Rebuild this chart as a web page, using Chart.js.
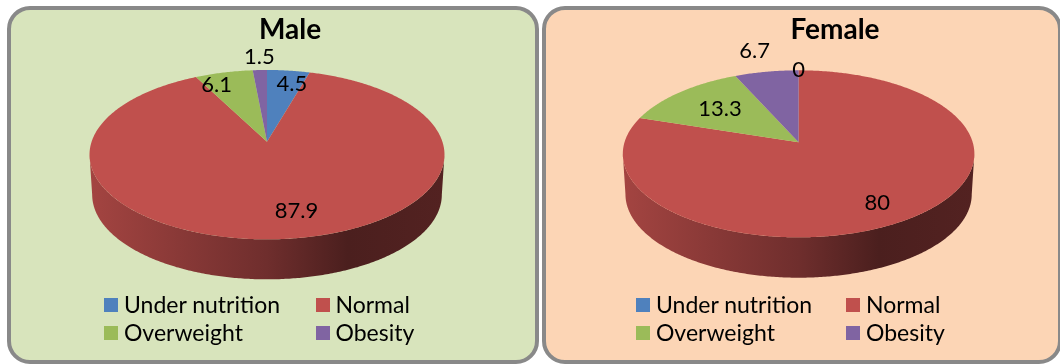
<!DOCTYPE html>
<html>
<head>
<meta charset="utf-8">
<title>Nutritional status by sex</title>
<script src="https://cdn.jsdelivr.net/npm/chart.js@4/dist/chart.umd.min.js"></script>
<style>
    html, body { margin: 0; padding: 0; background: #fff; }
    body { position: relative; width: 1060px; height: 364px; overflow: hidden; font-family: Lato, sans-serif; }
    .panel { position: absolute; top: 5.5px; height: 350px; box-sizing: content-box; border: 4px solid #898989; border-radius: 23px; }
    #panelMale { left: 7px; width: 524px; background: #d8e4bc; }
    #panelFemale { left: 542px; width: 512px; background: #fcd5b5; }
    canvas { position: absolute; top: 0; }
    #male { left: 8px; }
    #female { left: 542px; }
    .legend-item { position: absolute; font-size: 23px; line-height: 28px; color: #000; white-space: nowrap; }
    .legend-color { position: absolute; top: 8px; left: 0; width: 14px; height: 14px; }
    .legend-text { position: absolute; top: 0; }
</style>
</head>
<body>
<div class="panel" id="panelMale"></div>
<div class="panel" id="panelFemale"></div>
<canvas id="male" width="530" height="364"></canvas>
<canvas id="female" width="516" height="364"></canvas>
<div id="legend"></div>

<script>
const categories = ['Under nutrition', 'Normal', 'Overweight', 'Obesity'];
const maleValues = [4.5, 87.9, 6.1, 1.5];
const femaleValues = [0, 80, 13.3, 6.7];
const sliceColors = ['#4f81bd', '#c0504d', '#9bbb59', '#8064a2'];

// tilted disc: apex of the slices, half axes, perspective and wall height
const maleDisc = { x: 259, y: 141.7, a: 175.4, b: 82.7, k: 0.153, depth: 40 };
const femaleDisc = { x: 256.6, y: 142.3, a: 174.1, b: 81.9, k: 0.138, depth: 40.4 };

// value labels sit on the slice's rim point, shifted by these amounts
const maleNudges = [[3.5, 13.4], [9.3, -28], [-7.3, 12.2], [-0.5, -12.7]];
const femaleNudges = [[0, 0], [-36.5, -13.6], [39.9, 17.1], [-11.9, -21]];

function project(disc, angle, r, down) {
    const s = Math.sin(angle) * r;
    const c = Math.cos(angle) * r;
    const w = 1 + disc.k * c;
    const squeeze = down ? 0.985 : 1;
    return {
        x: disc.x + squeeze * disc.a * s / w,
        y: disc.y - disc.b * c / w + (down ? disc.depth : 0)
    };
}

function shade(hex, f) {
    const n = parseInt(hex.slice(1), 16);
    const r = Math.round((n >> 16) * f);
    const g = Math.round(((n >> 8) & 255) * f);
    const b = Math.round((n & 255) * f);
    return `rgb(${r},${g},${b})`;
}

function rimPath(ctx, disc, from, to, down) {
    const steps = Math.max(2, Math.ceil(Math.abs(to - from) / 0.01));
    for (let i = 0; i <= steps; i++) {
        const p = project(disc, from + (to - from) * i / steps, 1, down);
        ctx.lineTo(p.x, p.y);
    }
}

// the arcs keep their angles from Chart.js, only the drawing is replaced
const tiltedPie = {
    id: 'tiltedPie',
    beforeDatasetDraw(chart, args, opts) {
        const ctx = chart.ctx;
        const disc = opts.disc;
        const arcs = chart.getDatasetMeta(0).data;
        const colors = chart.data.datasets[0].backgroundColor;
        const frontLimit = Math.acos(-disc.k);

        arcs.forEach((arc, i) => {
            const from = Math.max(arc.startAngle + Math.PI / 2, frontLimit);
            const to = Math.min(arc.endAngle + Math.PI / 2, 2 * Math.PI - frontLimit);
            if (to <= from) return;
            const grad = ctx.createLinearGradient(disc.x - disc.a, 0, disc.x + disc.a, 0);
            grad.addColorStop(0, shade(colors[i], 0.85));
            grad.addColorStop(0.5, shade(colors[i], 0.58));
            grad.addColorStop(0.73, shade(colors[i], 0.39));
            grad.addColorStop(1, shade(colors[i], 0.43));
            ctx.beginPath();
            rimPath(ctx, disc, from, to, false);
            rimPath(ctx, disc, to, from, true);
            ctx.closePath();
            ctx.fillStyle = grad;
            ctx.fill();
        });

        arcs.forEach((arc, i) => {
            if (arc.endAngle - arc.startAngle <= 0) return;
            ctx.beginPath();
            ctx.moveTo(disc.x, disc.y);
            rimPath(ctx, disc, arc.startAngle + Math.PI / 2, arc.endAngle + Math.PI / 2, false);
            ctx.closePath();
            ctx.fillStyle = colors[i];
            ctx.fill();
        });
        return false;
    },
    afterDatasetsDraw(chart, args, opts) {
        const ctx = chart.ctx;
        const values = chart.data.datasets[0].data;
        ctx.save();
        ctx.font = '22px Lato';
        ctx.fillStyle = '#000';
        ctx.textAlign = 'center';
        ctx.textBaseline = 'middle';
        chart.getDatasetMeta(0).data.forEach((arc, i) => {
            const mid = (arc.startAngle + arc.endAngle) / 2 + Math.PI / 2;
            const p = project(opts.disc, mid, 1, false);
            ctx.fillText(String(values[i]), p.x + opts.nudges[i][0], p.y + opts.nudges[i][1]);
        });
        ctx.restore();
    }
};

function makePie(id, name, values, disc, nudges, titleShift) {
    return new Chart(document.getElementById(id).getContext('2d'), {
        type: 'pie',
        data: {
            labels: categories,
            datasets: [{ label: name, data: values, backgroundColor: sliceColors, borderWidth: 0 }]
        },
        options: {
            responsive: false,
            animation: false,
            events: [],
            layout: { padding: { left: titleShift } },
            plugins: {
                legend: { display: false },
                tooltip: { enabled: false },
                title: {
                    display: true,
                    text: name,
                    color: '#000',
                    font: { family: 'Lato', size: 28, weight: 'bold' },
                    padding: { top: 13, bottom: 4 }
                },
                tiltedPie: { disc: disc, nudges: nudges }
            }
        },
        plugins: [tiltedPie]
    });
}

document.fonts.load('bold 28px Lato').then(() => document.fonts.load('22px Lato')).finally(() => {
    makePie('male', 'Male', maleValues, maleDisc, maleNudges, 34);
    makePie('female', 'Female', femaleValues, femaleDisc, femaleNudges, 70);
});

// legend in two columns under each pie
const legend = document.getElementById('legend');
const legendSpots = [
    { columns: [104, 315.5], gap: 20 },
    { columns: [636, 846], gap: 20 }
];
const legendRows = [290, 318];

legendSpots.forEach(spot => {
    categories.forEach((label, index) => {
        const left = spot.columns[index % 2];
        const top = legendRows[Math.floor(index / 2)];
        legend.innerHTML += `
        <div class="legend-item" style="left: ${left}px; top: ${top}px;">
          <div class="legend-color" style="background-color: ${sliceColors[index]};"></div>
          <div class="legend-text" style="left: ${spot.gap}px;">${label}</div>
        </div>
      `;
    });
});
</script>
</body>
</html>
